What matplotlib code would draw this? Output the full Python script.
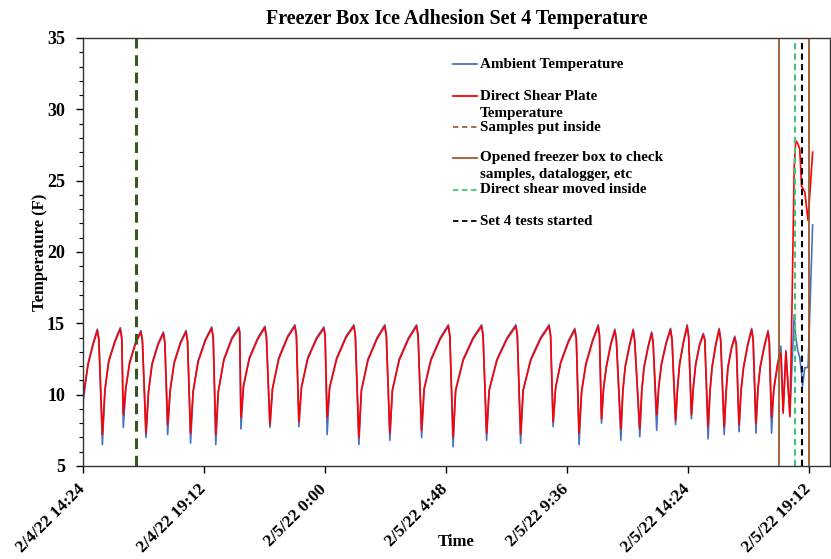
import matplotlib
matplotlib.use("Agg")
import matplotlib.pyplot as plt
import matplotlib.transforms as mtransforms
from datetime import datetime, timedelta

# hours since 2/4/22 14:24 (one row per cycle: trough, knee, mid, late, peak, shoulder)
hours = [
    0.00, 0.20, 0.40, 0.57, 0.63,
    0.77, 0.87, 1.02, 1.27, 1.48, 1.54,
    1.60, 1.70, 1.85, 2.09, 2.30, 2.36,
    2.50, 2.60, 2.74, 2.98, 3.19, 3.25,
    3.36, 3.46, 3.62, 3.87, 4.09, 4.15,
    4.27, 4.37, 4.57, 4.86, 5.11, 5.17,
    5.27, 5.37, 5.59, 5.91, 6.19, 6.22,
    6.27, 6.37, 6.60, 6.94, 7.22, 7.28,
    7.42, 7.52, 7.77, 8.12, 8.41, 8.47,
    8.57, 8.67, 8.92, 9.27, 9.56, 9.61,
    9.69, 9.79, 10.07, 10.44, 10.75, 10.81,
    10.95, 11.05, 11.31, 11.67, 11.98, 12.04,
    12.18, 12.28, 12.55, 12.92, 13.24, 13.30,
    13.44, 13.54, 13.81, 14.18, 14.50, 14.56,
    14.69, 14.79, 15.09, 15.48, 15.82, 15.88,
    16.02, 16.12, 16.43, 16.83, 17.18, 17.24,
    17.37, 17.47, 17.77, 18.16, 18.50, 18.56,
    18.66, 18.76, 18.96, 19.27, 19.52, 19.58,
    19.69, 19.79, 19.96, 20.22, 20.45, 20.50,
    20.58, 20.66, 20.77, 20.95, 21.11, 21.17,
    21.35, 21.43, 21.52, 21.69, 21.84, 21.90,
    22.10, 22.18, 22.27, 22.43, 22.57, 22.63,
    22.77, 22.85, 22.96, 23.15, 23.32, 23.38,
    23.52, 23.60, 23.68, 23.84, 23.98, 24.04,
    24.15, 24.23, 24.32, 24.48, 24.62, 24.68,
    24.81, 24.89, 24.97, 25.12, 25.25, 25.31,
    25.45, 25.53, 25.60, 25.75, 25.87, 25.93,
    26.04, 26.12, 26.22, 26.39, 26.54, 26.60,
    26.71, 26.79, 26.88, 27.05, 27.19, 27.24,
    27.33, 27.42, 27.58, 27.70, 27.79, 27.90, 28.06,
    28.14, 28.23, 28.29, 28.37, 28.45, 28.52, 28.56, 28.65, 28.78, 28.96,
]

ambient = [
    9.4, 12.2, 13.6, 14.6, 13.9,
    6.5, 10.3, 12.4, 13.8, 14.7, 14.0,
    7.7, 10.4, 12.3, 13.7, 14.5, 13.8,
    7.0, 10.2, 12.2, 13.6, 14.4, 13.7,
    7.2, 10.3, 12.3, 13.7, 14.5, 13.8,
    6.6, 10.2, 12.4, 13.9, 14.75, 14.0,
    6.5, 10.2, 12.5, 14.0, 14.75, 14.4,
    7.6, 10.6, 12.6, 14.0, 14.8, 14.1,
    7.7, 10.4, 12.6, 14.1, 14.9, 14.2,
    7.75, 10.5, 12.6, 14.0, 14.75, 14.2,
    7.2, 10.5, 12.6, 14.1, 14.9, 14.2,
    6.5, 10.3, 12.5, 14.0, 14.9, 14.2,
    6.8, 10.3, 12.5, 14.0, 14.9, 14.2,
    7.0, 10.4, 12.5, 14.0, 14.9, 14.2,
    6.35, 10.3, 12.5, 14.0, 14.9, 14.2,
    6.8, 10.3, 12.5, 14.0, 14.9, 14.2,
    6.6, 10.3, 12.5, 14.0, 14.9, 14.2,
    7.75, 10.5, 12.3, 13.8, 14.65, 14.0,
    6.5, 10.2, 12.2, 13.8, 14.9, 14.2,
    8.0, 10.4, 12.0, 13.6, 14.6, 13.9,
    6.8, 10.3, 12.0, 13.5, 14.6, 13.8,
    7.05, 10.3, 12.0, 13.4, 14.4, 13.7,
    7.5, 10.5, 12.2, 13.7, 14.65, 13.9,
    7.9, 10.5, 12.2, 13.8, 14.9, 14.1,
    8.3, 10.6, 12.2, 13.6, 14.3, 13.9,
    6.9, 10.3, 12.0, 13.6, 14.65, 13.9,
    7.2, 10.3, 12.0, 13.4, 14.1, 13.6,
    7.4, 10.3, 12.0, 13.6, 14.65, 13.9,
    7.3, 10.4, 12.0, 13.5, 14.5, 13.8,
    7.3, 10.5, 12.3, 13.4, 8.9, 13.1, 8.6,
    12.0, 15.6, 14.0, 13.1, 12.6, 11.5, 10.6, 11.9, 11.9, 21.9,
]

plate = [
    9.8, 12.1, 13.5, 14.5, 13.8,
    7.2, 10.3, 12.3, 13.7, 14.6, 13.9,
    8.6, 10.5, 12.2, 13.6, 14.4, 13.7,
    7.3, 10.2, 12.1, 13.5, 14.3, 13.6,
    7.9, 10.3, 12.2, 13.6, 14.4, 13.7,
    7.3, 10.2, 12.3, 13.8, 14.65, 13.9,
    7.2, 10.2, 12.4, 13.9, 14.65, 14.3,
    8.4, 10.6, 12.5, 13.9, 14.7, 14.0,
    7.9, 10.4, 12.5, 14.0, 14.8, 14.1,
    8.1, 10.5, 12.5, 13.9, 14.65, 14.1,
    8.4, 10.5, 12.5, 14.0, 14.8, 14.1,
    7.0, 10.3, 12.4, 13.9, 14.8, 14.1,
    7.3, 10.3, 12.4, 13.9, 14.8, 14.1,
    7.5, 10.4, 12.4, 13.9, 14.8, 14.1,
    7.05, 10.3, 12.4, 13.9, 14.8, 14.1,
    7.3, 10.3, 12.4, 13.9, 14.8, 14.1,
    7.2, 10.3, 12.4, 13.9, 14.8, 14.1,
    8.1, 10.5, 12.2, 13.7, 14.55, 13.9,
    7.3, 10.2, 12.1, 13.7, 14.8, 14.1,
    8.3, 10.4, 11.9, 13.5, 14.5, 13.8,
    7.6, 10.3, 11.9, 13.4, 14.5, 13.7,
    7.6, 10.3, 11.9, 13.3, 14.3, 13.6,
    8.6, 10.5, 12.1, 13.6, 14.55, 13.8,
    8.2, 10.5, 12.1, 13.7, 14.8, 14.0,
    8.6, 10.6, 12.1, 13.5, 14.2, 13.8,
    7.75, 10.3, 11.9, 13.5, 14.55, 13.8,
    7.75, 10.3, 11.9, 13.3, 14.0, 13.5,
    7.9, 10.3, 11.9, 13.5, 14.55, 13.8,
    8.0, 10.4, 11.9, 13.4, 14.4, 13.7,
    8.4, 10.3, 12.2, 12.9, 8.7, 13.0, 8.45,
    16.0, 26.0, 27.8, 27.6, 27.2, 24.6, 24.5, 24.2, 22.2, 27.0,
]

# event markers (hours since start)
samples_in = 2.10
box_opened = [27.63, 28.80]
shear_inside = 28.28
tests_started = 28.54

tick_labels = ["2/4/22 14:24", "2/4/22 19:12", "2/5/22 0:00", "2/5/22 4:48",
               "2/5/22 9:36", "2/5/22 14:24", "2/5/22 19:12"]
x_end = "2/5/22 20:03"

start = datetime(2022, 2, 4, 14, 24)


def at(h):
    return start + timedelta(hours=h)


def parse(s):
    return datetime.strptime(s, "%m/%d/%y %H:%M")


times = [at(h) for h in hours]

plt.rcParams["font.family"] = "Liberation Serif"
plt.rcParams["font.weight"] = "bold"

fig = plt.figure(figsize=(8.31, 5.59), dpi=100)
ax = fig.add_axes([83 / 831, 1 - 466 / 559, 747 / 831, 428 / 559])

blue = "#4472C4"
red = "#FF0000"
brown = "#9C5B2C"
lgreen = "#3CC878"
dgreen = "#375623"

ax.plot(times, ambient, color=blue, lw=1.2)
ax.plot(times, plate, color=red, lw=1.2)

ax.axvline(at(samples_in), color=dgreen, lw=2.2, ls=(0, (3.5, 2.2)))
for h in box_opened:
    ax.axvline(at(h), color=brown, lw=1.3)
ax.axvline(at(shear_inside), color=lgreen, lw=1.5, ls=(0, (3, 2)))
ax.axvline(at(tests_started), color="black", lw=1.5, ls=(0, (3, 2)))

ax.set_ylim(5, 35)
ax.set_yticks(range(5, 36, 5))
ax.set_yticks(range(5, 36), minor=True)
ax.set_xlim(start, parse(x_end))
ax.set_xticks([parse(s) for s in tick_labels])
ax.tick_params(axis="x", direction="out", length=5, width=1, pad=4)
ax.tick_params(axis="y", which="major", direction="out", length=5, width=1,
               labelsize=13, pad=8)
ax.tick_params(axis="y", which="minor", direction="out", length=3, width=0.8)
ax.set_xticklabels(tick_labels, rotation=45, ha="right", rotation_mode="anchor",
                   fontsize=12.5, fontweight="bold")
# nudge the rotated date labels so their ends sit under the ticks
shift = mtransforms.ScaledTranslation(-6 / 100, -3 / 100, fig.dpi_scale_trans)
for lab in ax.get_xticklabels():
    lab.set_transform(lab.get_transform() + shift)
for lab in ax.get_yticklabels():
    lab.set_fontweight("bold")
for sp in ax.spines.values():
    sp.set_color("#333333")
    sp.set_linewidth(1.0)

ax.set_title("Freezer Box Ice Adhesion Set 4 Temperature", fontsize=14.5,
             fontweight="bold", pad=10)
ax.set_ylabel("Temperature (F)", fontsize=12, fontweight="bold")
ax.yaxis.set_label_coords(-0.047, 0.5)
ax.set_xlabel("Time", fontsize=12, fontweight="bold")
ax.xaxis.set_label_coords(0.499, -0.158)

# legend drawn like the spreadsheet one (fixed slots, wrapped labels overflow)
legend_rows = [
    (0.939, blue, "-", ["Ambient Temperature"]),
    (0.864, red, "-", ["Direct Shear Plate", "Temperature"]),
    (0.792, "#A0623A", "--", ["Samples put inside"]),
    (0.720, brown, "-", ["Opened freezer box to check", "samples, datalogger, etc"]),
    (0.645, lgreen, "--", ["Direct shear moved inside"]),
    (0.572, "black", "--", ["Set 4 tests started"]),
]
for y, col, ls, lines in legend_rows:
    ax.plot([0.495, 0.527], [y, y], transform=ax.transAxes, color=col, lw=1.3,
            ls=ls, dashes=(3, 2) if ls == "--" else (None, None), clip_on=False)
    for i, txt in enumerate(lines):
        ax.text(0.531, y - i * 0.04, txt, transform=ax.transAxes, fontsize=10.9,
                fontweight="bold", va="center", ha="left")

fig.savefig("out.png", dpi=100)
